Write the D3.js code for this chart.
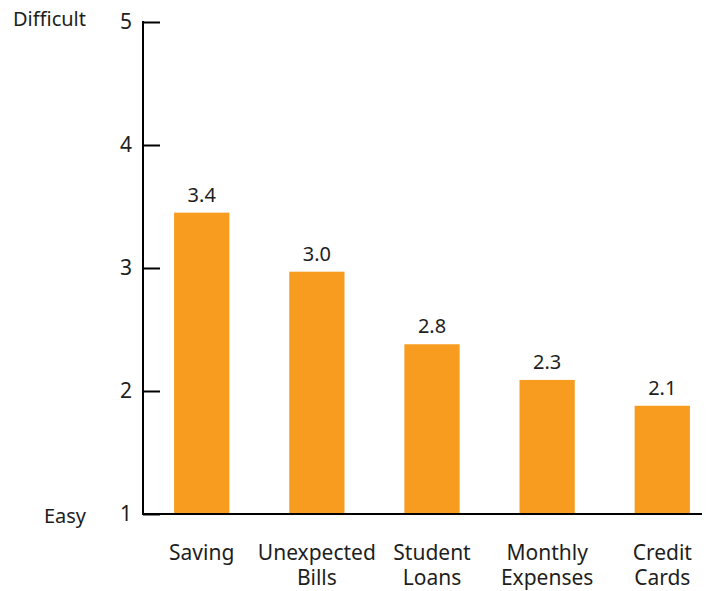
<!DOCTYPE html>
<html>
<head>
<meta charset="utf-8">
<script src="https://cdn.jsdelivr.net/npm/d3@7"></script>
<style>
  body { margin: 0; background: #fff; }
  text { font-family: "Noto Sans", Lato, sans-serif; fill: #1e1e1e; }
</style>
</head>
<body>
<svg id="chart" width="713" height="591"></svg>
<script>
var categories = [['Saving'], ['Unexpected', 'Bills'], ['Student', 'Loans'], ['Monthly', 'Expenses'], ['Credit', 'Cards']];
// bar heights as drawn, and the labels printed above them
var values = [3.45, 2.97, 2.38, 2.09, 1.88];
var valueLabels = ['3.4', '3.0', '2.8', '2.3', '2.1'];
var yTicks = [1, 2, 3, 4, 5];
var yEnds = [{ v: 5, text: 'Difficult' }, { v: 1, text: 'Easy' }];

var svg = d3.select('#chart');
var axisX = 143;

var y = d3.scaleLinear().domain([1, 5]).range([514, 22]);
var x = d3.scaleBand()
    .domain(d3.range(categories.length))
    .range([143, 721])
    .paddingInner(0.52)
    .paddingOuter(0.27);

// bars
svg.append('g').selectAll('rect')
    .data(values)
    .join('rect')
    .attr('x', function (d, i) { return x(i); })
    .attr('width', x.bandwidth())
    .attr('y', function (d) { return y(d); })
    .attr('height', function (d) { return y(1) - y(d); })
    .attr('fill', '#f89c1f');

// value labels
svg.append('g').selectAll('text')
    .data(values)
    .join('text')
    .attr('x', function (d, i) { return x(i) + x.bandwidth() / 2; })
    .attr('y', function (d) { return y(d) - 11; })
    .attr('text-anchor', 'middle')
    .attr('font-size', 20)
    .text(function (d, i) { return valueLabels[i]; });

// y axis
var yAxis = d3.axisRight(y).tickValues(yTicks).tickSize(17).tickFormat('');
var ga = svg.append('g').attr('transform', 'translate(' + axisX + ',0)').call(yAxis);
ga.select('.domain').remove();
ga.selectAll('line').attr('stroke', '#000').attr('stroke-width', 2);
svg.append('line')
    .attr('x1', axisX).attr('x2', axisX)
    .attr('y1', y(5) - 1).attr('y2', y(1) + 1)
    .attr('stroke', '#000').attr('stroke-width', 2);
svg.append('line')
    .attr('x1', axisX - 1).attr('x2', 702)
    .attr('y1', y(1)).attr('y2', y(1))
    .attr('stroke', '#000').attr('stroke-width', 2);

svg.append('g').selectAll('text')
    .data(yTicks)
    .join('text')
    .attr('x', 132)
    .attr('y', function (d) { return y(d) + 1; })
    .attr('text-anchor', 'end')
    .attr('dominant-baseline', 'middle')
    .attr('font-size', 21)
    .text(function (d) { return d; });

svg.append('g').selectAll('text')
    .data(yEnds)
    .join('text')
    .attr('x', 86)
    .attr('y', function (d) { return y(d.v) + (d.v == 1 ? 4 : -1); })
    .attr('text-anchor', 'end')
    .attr('dominant-baseline', 'middle')
    .attr('font-size', 20)
    .text(function (d) { return d.text; });

// category labels, one text per line
var cat = svg.append('g').selectAll('g')
    .data(categories)
    .join('g');
cat.selectAll('text')
    .data(function (d, i) { return d.map(function (s, j) { return { s: s, i: i, j: j }; }); })
    .join('text')
    .attr('text-anchor', 'middle')
    .attr('font-size', 21)
    .attr('x', function (d) { return x(d.i) + x.bandwidth() / 2; })
    .attr('y', function (d) { return 560 + d.j * 25; })
    .text(function (d) { return d.s; });
</script>
</body>
</html>
